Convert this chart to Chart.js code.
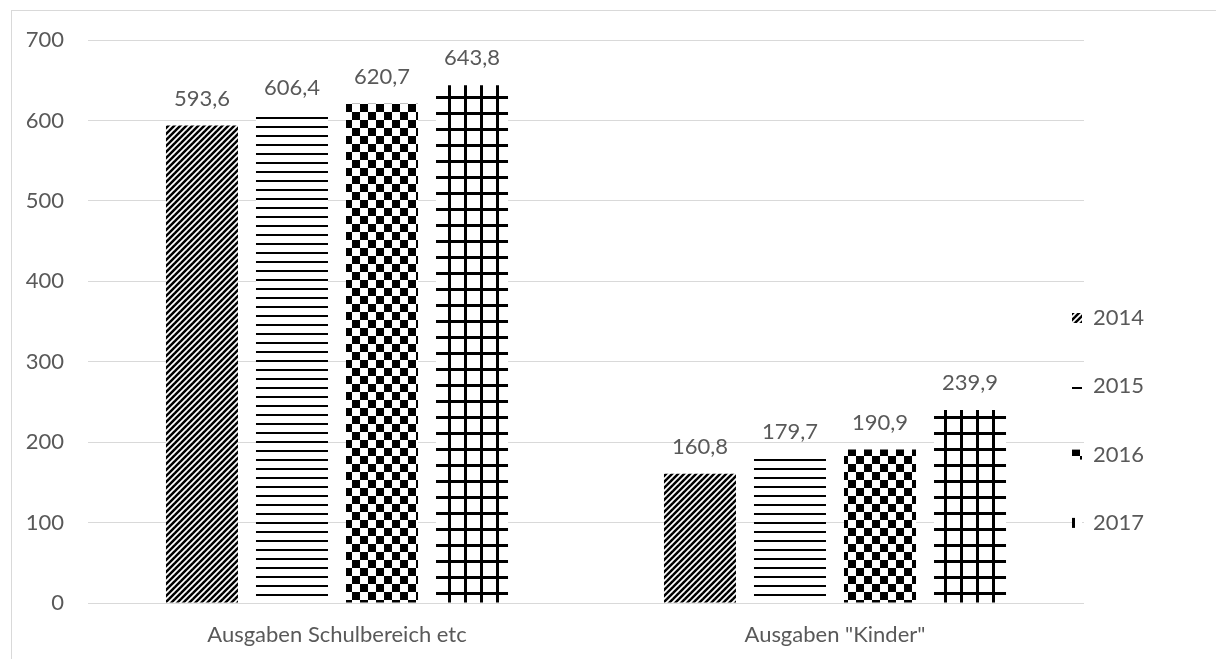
<!DOCTYPE html>
<html>
<head>
<meta charset="utf-8">
<script src="https://cdn.jsdelivr.net/npm/chart.js@4/dist/chart.umd.min.js"></script>
<style>
    body { margin: 0; background: #fff; overflow: hidden; }
    #frame {
        position: absolute; left: 11px; top: 10px;
        width: 1300px; height: 800px;
        border: 1px solid #d9d9d9;
    }
    #wrap { position: absolute; left: 0; top: 0; width: 1216px; height: 659px; }
</style>
</head>
<body>
<div id="frame"></div>
<div id="wrap"><canvas id="chart"></canvas></div>
<script>
// Data
const categories = ['Ausgaben Schulbereich etc', 'Ausgaben "Kinder"'];
const years = ['2014', '2015', '2016', '2017'];
const values2014 = [593.6, 160.8];
const values2015 = [606.4, 179.7];
const values2016 = [620.7, 190.9];
const values2017 = [643.8, 239.9];
const yTicks = [0, 100, 200, 300, 400, 500, 600, 700];

const FONT = 'Lato';
const TEXT = '#595959';

// Pattern helpers
function makeTile(w, h, draw) {
    const c = document.createElement('canvas');
    c.width = w;
    c.height = h;
    const g = c.getContext('2d');
    g.fillStyle = '#fff';
    g.fillRect(0, 0, w, h);
    g.fillStyle = '#000';
    g.strokeStyle = '#000';
    draw(g, w, h);
    return c;
}

function makePatterns(ctx) {
    const diag = makeTile(6, 6, (g, s) => {
        g.lineWidth = 2.5;
        for (let k = -s; k <= s; k += s) {
            g.beginPath();
            g.moveTo(k - 1, s + 1);
            g.lineTo(k + s + 1, -1);
            g.stroke();
        }
    });
    const horiz = makeTile(4, 9, (g, w) => {
        g.fillRect(0, 0, w, 2);
    });
    const checker = makeTile(16, 16, (g) => {
        g.fillRect(0, 0, 8, 8);
        g.fillRect(8, 8, 8, 8);
    });
    const grid = makeTile(16, 16, (g) => {
        g.fillRect(0, 0, 16, 3);
        g.fillRect(0, 0, 3, 16);
    });
    return [diag, horiz, checker, grid].map(t => ctx.createPattern(t, 'repeat'));
}

const ctx = document.getElementById('chart').getContext('2d');
const patterns = makePatterns(ctx);
const seriesValues = [values2014, values2015, values2016, values2017];

// value labels above bars (German decimal comma)
const valueLabels = {
    id: 'valueLabels',
    afterDatasetsDraw(chart) {
        const c = chart.ctx;
        c.save();
        c.font = '22px ' + FONT;
        c.fillStyle = TEXT;
        c.textAlign = 'center';
        c.textBaseline = 'middle';
        chart.data.datasets.forEach((ds, i) => {
            chart.getDatasetMeta(i).data.forEach((bar, j) => {
                const txt = ds.data[j].toFixed(1).replace('.', ',');
                c.fillText(txt, bar.x, bar.y - 27);
            });
        });
        c.restore();
    }
};

// legend on the right, one entry per year
const sideLegend = {
    id: 'sideLegend',
    afterDraw(chart) {
        const c = chart.ctx;
        const x = chart.chartArea.right - 12;
        const top = 318;
        const step = 68.3;
        c.save();
        c.font = '22px ' + FONT;
        c.textBaseline = 'middle';
        chart.data.datasets.forEach((ds, i) => {
            const y = top + i * step;
            c.fillStyle = ds.backgroundColor;
            c.fillRect(x, y - 5, 10, 10);
            c.fillStyle = TEXT;
            c.fillText(ds.label, x + 21, y);
        });
        c.restore();
    }
};

new Chart(ctx, {
    type: 'bar',
    data: {
        labels: categories,
        datasets: years.map((y, i) => ({
            label: y,
            data: seriesValues[i],
            backgroundColor: patterns[i],
            borderWidth: 0,
            categoryPercentage: 0.723,
            barPercentage: 0.8
        }))
    },
    options: {
        responsive: true,
        maintainAspectRatio: false,
        animation: false,
        layout: {
            padding: { top: 40, right: 132, bottom: 0, left: 0 }
        },
        scales: {
            y: {
                min: 0,
                max: 700,
                afterBuildTicks: (scale) => { scale.ticks = yTicks.map(v => ({ value: v })); },
                afterFit: (scale) => { scale.width = 88; },
                border: { display: false },
                grid: { color: '#d9d9d9', lineWidth: 1, drawTicks: false },
                ticks: {
                    color: TEXT,
                    padding: 24,
                    font: { family: FONT, size: 22 }
                }
            },
            x: {
                afterFit: (scale) => { scale.height = 56; },
                border: { display: false },
                grid: { display: false, drawTicks: false },
                ticks: {
                    color: TEXT,
                    padding: 19,
                    font: { family: FONT, size: 22 }
                }
            }
        },
        plugins: {
            legend: { display: false },
            tooltip: { enabled: false }
        }
    },
    plugins: [valueLabels, sideLegend]
});
</script>
</body>
</html>
